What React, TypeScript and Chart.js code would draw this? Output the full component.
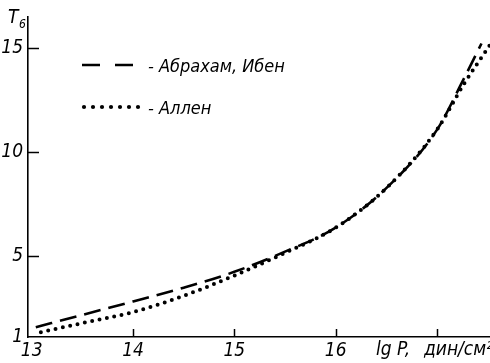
import React, { useEffect, useRef } from 'react';
import { Chart, registerables } from 'chart.js';
Chart.register(...registerables);

const abrahamLgP = [13.04, 13.5, 14.0, 14.5, 15.0, 15.5, 16.0, 16.5, 17.0, 17.26, 17.44];
const abrahamT = [1.57, 2.16, 2.81, 3.47, 4.23, 5.2, 6.35, 8.25, 11.05, 13.45, 15.2];
const allenLgP = [13.09, 13.5, 14.0, 14.5, 15.0, 15.5, 16.0, 16.5, 17.0, 17.26, 17.52];
const allenT = [1.33, 1.77, 2.3, 3.08, 4.05, 5.14, 6.35, 8.25, 11.05, 13.2, 15.1];

const xTicks = [13, 14, 15, 16, 17];
const xTickLabels = ['13', '14', '15', '16', ''];
const yTicks = [1, 5, 10, 15];
const yTickLabels = ['1', '5', '10', '15'];
const seriesNames = ['Абрахам, Ибен', 'Аллен'];
const yTitle = ['T', '6'];
const xTitle = ['lg P,', 'дин/см²'];

const X_MIN = 12.963;
const X_MAX = 17.524;
const Y_MIN = 1.1;
const Y_MAX = 16.5;

const FAMILY = '"DejaVu Sans Condensed", "Liberation Sans Narrow", "DejaVu Sans", sans-serif';

const decorPlugin = {
  id: 'decor',
  afterDraw(chart: any) {
    const ctx = chart.ctx as CanvasRenderingContext2D;
    const xs = chart.scales.x;
    const ys = chart.scales.y;
    const area = chart.chartArea;
    ctx.save();
    ctx.strokeStyle = '#000';
    ctx.fillStyle = '#000';
    // inward tick marks
    ctx.lineWidth = 1.5;
    ctx.setLineDash([]);
    xTicks.slice(1).forEach((v) => {
      const px = Math.round(xs.getPixelForValue(v)) + 0.5;
      ctx.beginPath();
      ctx.moveTo(px, area.bottom);
      ctx.lineTo(px, area.bottom - 8);
      ctx.stroke();
    });
    yTicks.slice(1).forEach((v) => {
      const py = Math.round(ys.getPixelForValue(v)) + 0.5;
      ctx.beginPath();
      ctx.moveTo(area.left, py);
      ctx.lineTo(area.left + 11, py);
      ctx.stroke();
    });

    // legend
    ctx.lineWidth = 2.6;
    ctx.setLineDash([18, 15]);
    ctx.beginPath();
    ctx.moveTo(82, 65);
    ctx.lineTo(140, 65);
    ctx.stroke();
    ctx.setLineDash([]);
    for (let i = 0; i < 7; i++) {
      ctx.beginPath();
      ctx.arc(84 + i * 9, 107, 2.1, 0, Math.PI * 2);
      ctx.fill();
    }
    ctx.font = `italic 18px ${FAMILY}`;
    ctx.textBaseline = 'alphabetic';
    ctx.textAlign = 'left';
    ctx.fillText('- ' + seriesNames[0], 148, 72);
    ctx.fillText('- ' + seriesNames[1], 148, 114);

    // y title
    ctx.font = `italic 19px ${FAMILY}`;
    ctx.fillText(yTitle[0], 8, 23);
    ctx.font = `italic 12px ${FAMILY}`;
    ctx.fillText(yTitle[1], 19, 28);

    // x title
    ctx.font = `italic 19px ${FAMILY}`;
    ctx.fillText(xTitle[0], 376, 355);
    ctx.fillText(xTitle[1], 424, 355);
    ctx.restore();
  },
};

export default function App() {
  const ref = useRef<HTMLCanvasElement | null>(null);
  useEffect(() => {
    document.body.style.margin = '0';
    const canvas = ref.current!;
    const tickFont = { family: FAMILY, size: 19, style: 'italic' as const };
    const chart = new Chart(canvas, {
      type: 'scatter',
      data: {
        datasets: [
          {
            label: seriesNames[0],
            data: abrahamLgP.map((x, i) => ({ x, y: abrahamT[i] })),
            showLine: true,
            borderColor: '#000',
            borderWidth: 2.6,
            borderDash: [17, 8],
            pointRadius: 0,
            cubicInterpolationMode: 'monotone',
            fill: false,
          },
          {
            label: seriesNames[1],
            data: allenLgP.map((x, i) => ({ x, y: allenT[i] })),
            showLine: true,
            borderColor: '#000',
            borderWidth: 4,
            borderDash: [0, 7.5],
            borderCapStyle: 'round',
            pointRadius: 0,
            cubicInterpolationMode: 'monotone',
            fill: false,
          },
        ],
      },
      options: {
        animation: false,
        responsive: false,
        devicePixelRatio: 1,
        layout: { padding: { top: 13, left: 0, right: 0, bottom: 0 } },
        plugins: { legend: { display: false }, tooltip: { enabled: false } },
        scales: {
          x: {
            type: 'linear',
            min: X_MIN,
            max: X_MAX,
            grid: { display: false, drawTicks: false },
            border: { display: true, color: '#000', width: 1.6 },
            afterBuildTicks: (s: any) => {
              s.ticks = xTicks.map((v) => ({ value: v }));
            },
            afterFit: (s: any) => {
              s.height = 26;
            },
            ticks: {
              callback: (_v: any, i: number) => xTickLabels[i],
              font: tickFont,
              color: '#000',
              padding: 3,
              maxRotation: 0,
              autoSkip: false,
            },
          },
          y: {
            type: 'linear',
            min: Y_MIN,
            max: Y_MAX,
            grid: { display: false, drawTicks: false },
            border: { display: true, color: '#000', width: 1.6 },
            afterBuildTicks: (s: any) => {
              s.ticks = yTicks.map((v) => ({ value: Math.max(v, Y_MIN) }));
            },
            afterFit: (s: any) => {
              s.width = 28;
            },
            ticks: {
              callback: (_v: any, i: number) => yTickLabels[i],
              font: tickFont,
              color: '#000',
              padding: 5,
              autoSkip: false,
            },
          },
        },
      },
      plugins: [decorPlugin],
    } as any);
    return () => chart.destroy();
  }, []);
  return (
    <div style={{ width: 490, height: 363, background: '#fff' }}>
      <canvas ref={ref} width={490} height={363} style={{ display: 'block' }} />
    </div>
  );
}
